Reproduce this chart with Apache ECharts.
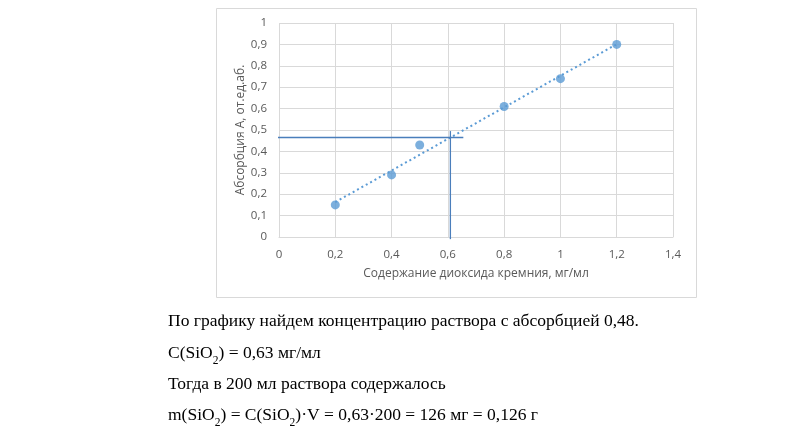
<!DOCTYPE html>
<html><head><meta charset="utf-8">
<script src="https://cdn.jsdelivr.net/npm/echarts@6/dist/echarts.min.js"></script>
<style>html,body{margin:0;padding:0;background:#fff}#c{width:812px;height:437px}</style>
</head><body><div id="c"></div>
<script>
const concentration = [0.2, 0.4, 0.5, 0.8, 1.0, 1.2];
const absorbance = [0.15, 0.29, 0.43, 0.61, 0.74, 0.90];
const trendX = [0.2, 1.2];
const trendY = [0.163, 0.901];
const readHX = [-0.02, 0.655];
const readHY = [0.465, 0.465];
const readVX = [0.609, 0.609];
const readVY = [0.495, -0.01];
const xTitle = 'Содержание диоксида кремния, мг/мл';
const yTitle = 'Абсорбция А, от.ед.аб.';

const fmt = v => String(Math.round(v * 10) / 10).replace('.', ',');
const zip = (a, b) => a.map((v, i) => [v, b[i]]);
const labelColor = '#595959';
const font = 'Open Sans';
const serif = 'Liberation Serif';

const chart = echarts.init(document.getElementById('c'));
chart.setOption({
  animation: false,
  grid: { left: 279, right: 139, top: 23, bottom: 200 },
  xAxis: {
    type: 'value', min: 0, max: 1.4, interval: 0.2,
    name: xTitle, nameLocation: 'middle', nameGap: 31,
    nameTextStyle: { color: labelColor, fontFamily: font, fontSize: 12 },
    axisLine: { show: true, lineStyle: { color: '#d9d9d9' } },
    axisTick: { show: false },
    axisLabel: { color: labelColor, fontFamily: font, fontSize: 11.5, margin: 12, formatter: fmt },
    splitLine: { show: true, lineStyle: { color: '#d9d9d9' } }
  },
  yAxis: {
    type: 'value', min: 0, max: 1, interval: 0.1,
    name: yTitle, nameLocation: 'middle', nameGap: 31,
    nameTextStyle: { color: labelColor, fontFamily: font, fontSize: 12 },
    axisLine: { show: false },
    axisTick: { show: false },
    axisLabel: { color: labelColor, fontFamily: font, fontSize: 11.5, margin: 12, formatter: fmt },
    splitLine: { show: true, lineStyle: { color: '#d9d9d9' } }
  },
  series: [
    { type: 'line', data: zip(trendX, trendY), symbol: 'none',
      lineStyle: { color: '#5b9bd5', width: 2, type: [2, 3] }, z: 2 },
    { type: 'line', data: zip(readHX, readHY), symbol: 'none', clip: false,
      lineStyle: { color: '#4a7ebb', width: 1.3 }, z: 3 },
    { type: 'line', data: zip(readVX, readVY), symbol: 'none', clip: false,
      lineStyle: { color: '#4a7ebb', width: 1.3 }, z: 3 },
    { type: 'scatter', data: zip(concentration, absorbance), symbol: 'circle', symbolSize: 9,
      itemStyle: { color: '#5b9bd5' }, z: 4 }
  ],
  graphic: [
    { type: 'rect', shape: { x: 216.5, y: 8.5, width: 480, height: 289 },
      style: { fill: 'none', stroke: '#d9d9d9', lineWidth: 1 }, silent: true, z: -1 },
    { type: 'text', left: 168, top: 312,
      style: { text: 'По графику найдем концентрацию раствора с абсорбцией 0,48.', font: '17.5px "' + serif + '"', fill: '#000' } },
    { type: 'text', left: 168, top: 342,
      style: { text: 'C(SiO{s|2}) = 0,63 мг/мл', font: '17.5px "' + serif + '"', fill: '#000',
        lineHeight: 22, rich: { s: { fontSize: 11.5, fontFamily: serif, verticalAlign: 'bottom', lineHeight: 22, padding: [0, 0, -3, 0] } } } },
    { type: 'text', left: 168, top: 375,
      style: { text: 'Тогда в 200 мл раствора содержалось', font: '17.5px "' + serif + '"', fill: '#000' } },
    { type: 'text', left: 168, top: 404,
      style: { text: 'm(SiO{s|2}) = C(SiO{s|2})·V = 0,63·200 = 126 мг = 0,126 г', font: '17.5px "' + serif + '"', fill: '#000',
        lineHeight: 22, rich: { s: { fontSize: 11.5, fontFamily: serif, verticalAlign: 'bottom', lineHeight: 22, padding: [0, 0, -3, 0] } } } }
  ]
});
</script></body></html>
